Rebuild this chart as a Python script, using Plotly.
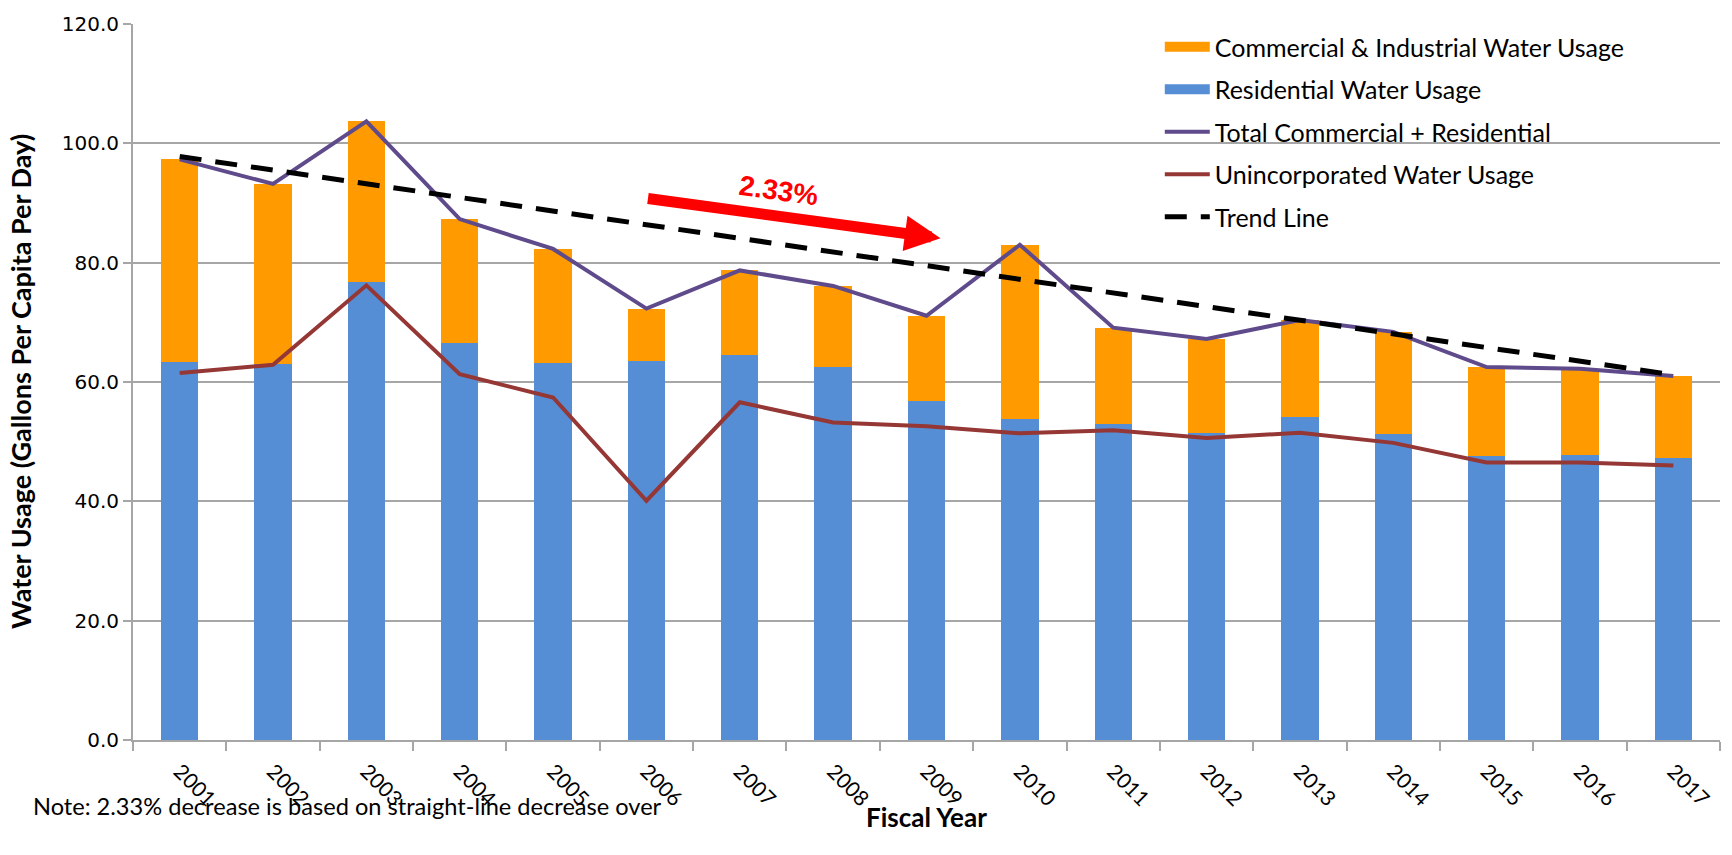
import plotly.graph_objects as go

# Fiscal years and per-capita water usage (gallons per capita per day)
years = [str(y) for y in range(2001, 2018)]
residential = [63.3, 63.1, 76.7, 66.6, 63.2, 63.6, 64.6, 62.5, 56.9, 53.8,
               52.9, 51.5, 54.2, 51.3, 47.6, 47.7, 47.3]
commercial = [34.0, 30.1, 27.0, 20.7, 19.1, 8.7, 14.1, 13.6, 14.2, 29.2,
              16.2, 15.7, 16.2, 17.1, 14.9, 14.5, 13.7]
unincorporated = [61.5, 62.9, 76.2, 61.3, 57.4, 40.1, 56.6, 53.2, 52.6, 51.4,
                  51.9, 50.6, 51.5, 49.8, 46.5, 46.5, 46.0]
trend_years = ["2001", "2017"]
trend_values = [97.8, 61.2]
total = [round(r + c, 1) for r, c in zip(residential, commercial)]

ORANGE = "#FF9A00"
BLUE = "#558ED5"
PURPLE = "#5F4B8B"
RED = "#953735"
GRID = "#A6A6A6"
TEXT_FONT = "Lato"

fig = go.Figure()

# Stacked bars (legend entries are drawn as wide swatches below)
fig.add_trace(go.Bar(
    x=years, y=residential, name="Residential Water Usage",
    marker=dict(color=BLUE, line=dict(width=0)), showlegend=False,
))
fig.add_trace(go.Bar(
    x=years, y=commercial, name="Commercial & Industrial Water Usage",
    marker=dict(color=ORANGE, line=dict(width=0)), showlegend=False,
))
fig.add_trace(go.Scatter(
    x=years, y=unincorporated, name="Unincorporated Water Usage",
    mode="lines", line=dict(color=RED, width=4),
    legendgroup="unc", legendrank=4,
))
fig.add_trace(go.Scatter(
    x=years, y=total, name="Total Commercial + Residential",
    mode="lines", line=dict(color=PURPLE, width=4),
    legendgroup="tot", legendrank=3,
))
fig.add_trace(go.Scatter(
    x=trend_years, y=trend_values, name="Trend Line",
    mode="lines", line=dict(color="black", width=5, dash="22px,14px"),
    legendgroup="trd", legendrank=5,
))

# Legend swatches for the two bar series
for name, color, rank, grp in [
    ("Commercial & Industrial Water Usage", ORANGE, 1, "com"),
    ("Residential Water Usage", BLUE, 2, "res"),
]:
    fig.add_trace(go.Scatter(
        x=[None], y=[None], name=name, mode="lines",
        line=dict(color=color, width=15),
        legendgroup=grp, legendrank=rank, hoverinfo="skip",
    ))

# Arrow showing the straight-line decrease, and its label
fig.add_annotation(
    x=8.15, y=84.1, ax=5.0, ay=90.8,
    xref="x", yref="y", axref="x", ayref="y",
    text="", showarrow=True, arrowhead=2, arrowsize=0.65,
    arrowwidth=11, arrowcolor="#FF0000", standoff=0,
)
fig.add_annotation(
    x=6.41, y=92.1, xref="x", yref="y",
    text="<b>2.33%</b>", showarrow=False, textangle=8,
    font=dict(family="Liberation Sans", size=28, color="#FF0000"),
)

# Axis titles and footnote
fig.add_annotation(
    x=0.5, y=-0.108, xref="paper", yref="paper",
    text="<b>Fiscal Year</b>", showarrow=False,
    font=dict(family=TEXT_FONT, size=26, color="black"),
    xanchor="center", yanchor="middle",
)
fig.add_annotation(
    x=-0.0712, y=0.5, xref="paper", yref="paper",
    text="<b>Water Usage (Gallons Per Capita Per Day)</b>", showarrow=False,
    textangle=-90, font=dict(family=TEXT_FONT, size=27, color="black"),
    xanchor="center", yanchor="middle",
)
fig.add_annotation(
    x=-0.064, y=-0.0925, xref="paper", yref="paper",
    text="Note: 2.33% decrease is based on straight-line decrease over",
    showarrow=False, font=dict(family=TEXT_FONT, size=23.6, color="black"),
    xanchor="left", yanchor="middle",
)

fig.update_layout(
    width=1732, height=855,
    margin=dict(l=133, r=12, t=22, b=115),
    paper_bgcolor="white", plot_bgcolor="white",
    barmode="stack", bargap=0.6,
    showlegend=True,
    legend=dict(
        x=0.647, y=1.0, xanchor="left", yanchor="top",
        bgcolor="rgba(0,0,0,0)", traceorder="grouped",
        tracegroupgap=7, itemwidth=45,
        font=dict(family=TEXT_FONT, size=25, color="black"),
    ),
    xaxis=dict(
        type="category", range=[-0.5, 16.5],
        showgrid=False, showline=True, linecolor=GRID, linewidth=2,
        ticks="outside", tickson="boundaries", ticklen=9, tickwidth=2,
        tickcolor=GRID, tickangle=45,
        ticklabelstandoff=9,
        tickfont=dict(family=TEXT_FONT, size=21, color="black"),
    ),
    yaxis=dict(
        range=[0, 120], tickvals=[0, 20, 40, 60, 80, 100, 120],
        ticktext=["0.0", "20.0", "40.0", "60.0", "80.0", "100.0", "120.0"],
        showgrid=True, gridcolor=GRID, gridwidth=2,
        showline=True, linecolor=GRID, linewidth=2,
        ticks="outside", ticklen=8, tickwidth=2, tickcolor=GRID,
        zeroline=False,
        tickfont=dict(family="DejaVu Sans", size=20, color="black"),
    ),
)

fig.write_html("out.html")
